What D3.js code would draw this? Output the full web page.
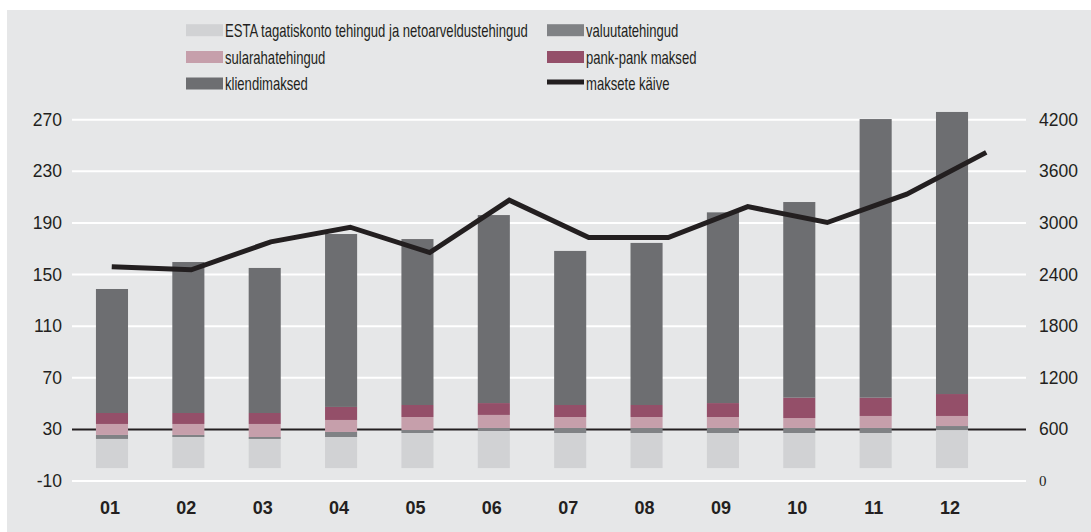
<!DOCTYPE html>
<html>
<head>
<meta charset="utf-8">
<script src="https://cdn.jsdelivr.net/npm/d3@7"></script>
<style>
  body { margin: 0; background: #ffffff; }
  svg text { fill: #231f20; }
</style>
</head>
<body>
<div id="chart"></div>
<script>
let svgWidth = 1091;
let svgHeight = 532;

// data
let months = ["01", "02", "03", "04", "05", "06", "07", "08", "09", "10", "11", "12"];
let esta = [22.6, 24.1, 22.6, 24.1, 27.2, 28.8, 27.2, 27.2, 27.2, 27.2, 27.2, 29.5];
let valuuta = [3.1, 1.6, 1.5, 3.9, 2.3, 2.3, 3.9, 3.9, 3.9, 3.9, 3.9, 3.1];
let sularaha = [8.5, 8.5, 10.1, 9.3, 10.1, 10.1, 8.5, 8.5, 8.5, 7.7, 9.3, 7.8];
let pankPank = [8.5, 8.5, 8.5, 10.1, 9.3, 9.2, 9.3, 9.3, 10.8, 15.8, 14.2, 17.0];
let kliendi = [96.1, 117.0, 112.4, 134.0, 128.6, 145.7, 119.4, 125.6, 147.8, 151.6, 215.9, 218.6];
let kaive = [2490, 2455, 2780, 2950, 2655, 3265, 2830, 2830, 3190, 3005, 3335, 3820];

let leftTicks = [-10, 30, 70, 110, 150, 190, 230, 270];
let rightTicks = [0, 600, 1200, 1800, 2400, 3000, 3600, 4200];

let seriesKeys = ["esta", "valuuta", "sularaha", "pankPank", "kliendi"];
let seriesNames = {
  esta: "ESTA tagatiskonto tehingud ja netoarveldustehingud",
  valuuta: "valuutatehingud",
  sularaha: "sularahatehingud",
  pankPank: "pank-pank maksed",
  kliendi: "kliendimaksed",
  kaive: "maksete käive"
};
let colors = {
  esta: "#d1d2d4",
  valuuta: "#808285",
  sularaha: "#c69fab",
  pankPank: "#944f69",
  kliendi: "#6d6e71",
  kaive: "#231f20"
};

let table = months.map(function(m, i){
  return {month: m, esta: esta[i], valuuta: valuuta[i], sularaha: sularaha[i],
          pankPank: pankPank[i], kliendi: kliendi[i], kaive: kaive[i]};
});

let svg = d3.select("#chart")
  .append("svg")
    .attr("width", svgWidth)
    .attr("height", svgHeight);

svg.append("rect")
  .attr("x", 7).attr("y", 10)
  .attr("width", svgWidth - 7).attr("height", svgHeight - 10)
  .attr("fill", "#e6e7e8");

let plotLeft = 72, plotRight = 1026;

let yLeft = d3.scaleLinear().domain([-10, 270]).range([481, 119.7]);
let yRight = d3.scaleLinear().domain([0, 4200]).range([481, 119.7]);

// bars and line sit on slightly different category spacing in the original
let xBar = d3.scaleBand().domain(months).range([73.8, 990.2])
  .paddingInner(0.58).paddingOuter(0.29);
let xLine = d3.scalePoint().domain(months).range([plotLeft, plotRight]).padding(0.5);

// gridlines
svg.append("g").selectAll("line").data(leftTicks).enter()
  .append("line")
  .attr("x1", plotLeft).attr("x2", plotRight)
  .attr("y1", d => yLeft(d)).attr("y2", d => yLeft(d))
  .attr("stroke", d => d == 30 ? "#231f20" : "#ffffff")
  .attr("stroke-width", 2);

// stacked bars
let stacked = d3.stack().keys(seriesKeys)(table);
svg.append("g").selectAll("g").data(stacked).enter()
  .append("g")
  .attr("fill", d => colors[d.key])
  .selectAll("rect").data(d => d).enter()
  .append("rect")
  .attr("x", d => xBar(d.data.month))
  .attr("width", xBar.bandwidth())
  .attr("y", d => yLeft(d[1]))
  .attr("height", d => yLeft(d[0]) - yLeft(d[1]));

// turnover line
let line = d3.line()
  .x(d => xLine(d.month))
  .y(d => yRight(d.kaive));
svg.append("path")
  .datum(table)
  .attr("d", line)
  .attr("fill", "none")
  .attr("stroke", colors.kaive)
  .attr("stroke-width", 5)
  .attr("stroke-linejoin", "miter");

// axes
let axisFont = "'Liberation Sans', Arial, sans-serif";
let plain = d => String(d);
let leftAxis = svg.append("g")
  .attr("transform", "translate(" + plotLeft + ",0)")
  .call(d3.axisLeft(yLeft).tickValues(leftTicks).tickFormat(plain).tickSize(0).tickPadding(10));
let rightAxis = svg.append("g")
  .attr("transform", "translate(" + plotRight + ",0)")
  .call(d3.axisRight(yRight).tickValues(rightTicks).tickFormat(plain).tickSize(0).tickPadding(13));
[leftAxis, rightAxis].forEach(function(ax){
  ax.select(".domain").remove();
  ax.selectAll("text")
    .attr("font-family", axisFont)
    .attr("font-size", 17.5)
    .attr("fill", "#231f20");
});
rightAxis.selectAll("text").filter(d => d == 0)
  .attr("font-family", "'Liberation Serif', serif")
  .attr("font-size", 15);

let xAxis = svg.append("g")
  .attr("transform", "translate(0,500)")
  .call(d3.axisBottom(xBar).tickSize(0).tickPadding(0));
xAxis.select(".domain").remove();
xAxis.selectAll("text")
  .attr("dy", "0.8em")
  .attr("x", -2)
  .attr("font-family", axisFont)
  .attr("font-weight", "bold")
  .attr("font-size", 18)
  .attr("fill", "#231f20");

// legend
let legendItems = [
  {key: "esta", col: 0, row: 0},
  {key: "valuuta", col: 1, row: 0},
  {key: "sularaha", col: 0, row: 1},
  {key: "pankPank", col: 1, row: 1},
  {key: "kliendi", col: 0, row: 2},
  {key: "kaive", col: 1, row: 2}
];
let legendX = [186, 547];
let legendBase = [36.7, 63.5, 90];

let legend = svg.append("g").selectAll("g").data(legendItems).enter()
  .append("g")
  .attr("transform", d => "translate(" + legendX[d.col] + "," + legendBase[d.row] + ")");

legend.append("rect")
  .attr("x", 0)
  .attr("y", d => d.key == "kaive" ? -10.5 : -12.5)
  .attr("width", 37)
  .attr("height", d => d.key == "kaive" ? 5 : 12)
  .attr("fill", d => colors[d.key]);

// the original uses a condensed face; squeeze a regular one horizontally
let legendTexts = legend.append("text")
  .attr("x", 0)
  .attr("y", 0)
  .attr("font-family", axisFont)
  .attr("font-size", 17.5)
  .text(d => seriesNames[d.key]);

let estaWidth = legendTexts.filter(d => d.key == "esta").node().getComputedTextLength();
let squeeze = 303 / estaWidth;
legendTexts.attr("transform", "translate(39,0) scale(" + squeeze + ",1)");
</script>
</body>
</html>
